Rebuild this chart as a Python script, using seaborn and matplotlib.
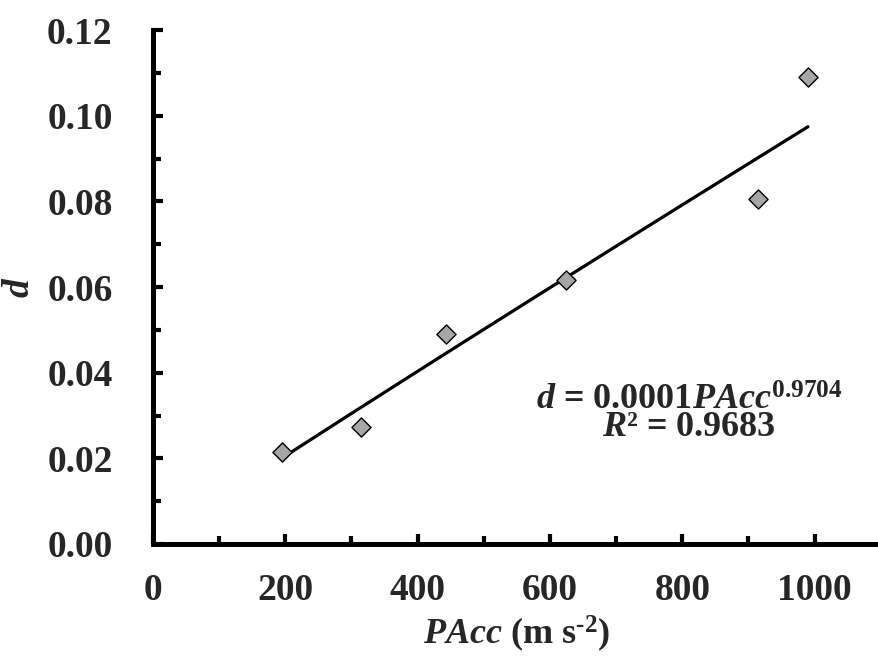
import numpy as np
import pandas as pd
import matplotlib
matplotlib.use('Agg')
import matplotlib.pyplot as plt
from matplotlib.ticker import MultipleLocator
import seaborn as sns

# values
pacc = [194.5, 314.0, 443.0, 625.0, 915.0, 990.0]
d_val = [0.0214, 0.0274, 0.0490, 0.0616, 0.0806, 0.1090]
eq_text = r'$d$ = 0.0001$PAcc^{\mathrm{0.9704}}$'
r2_text = r'$R$² = 0.9683'
x_ticks = [0, 200, 400, 600, 800, 1000]
y_ticks = [0.00, 0.02, 0.04, 0.06, 0.08, 0.10, 0.12]

sns.set_style('ticks')
plt.rcParams['font.family'] = ['Liberation Serif', 'DejaVu Serif']
plt.rcParams['font.weight'] = 'bold'
plt.rcParams['mathtext.fontset'] = 'custom'
plt.rcParams['mathtext.rm'] = 'Liberation Serif:bold'
plt.rcParams['mathtext.it'] = 'Liberation Serif:bold:italic'
plt.rcParams['mathtext.bf'] = 'Liberation Serif:bold'

df = pd.DataFrame({'PAcc': pacc, 'd': d_val})

# power fit in log space
b, loga = np.polyfit(np.log(df.PAcc), np.log(df.d), 1)
xf = np.linspace(df.PAcc.min(), df.PAcc.max(), 100)
fit = pd.DataFrame({'PAcc': xf, 'd': np.exp(loga) * xf ** b})

fig = plt.figure(figsize=(8.79, 6.57), dpi=100)
ax = fig.add_axes([0.174, 0.172, 0.828, 0.782])

sns.lineplot(data=fit, x='PAcc', y='d', color='black', linewidth=2.3, ax=ax)
sns.scatterplot(data=df, x='PAcc', y='d', marker='D', s=95, color='#a6a6a6',
                edgecolor='black', linewidth=1.0, zorder=3, ax=ax)

ax.set_xlim(0, 1100)
ax.set_ylim(0, 0.12)
ax.set_xticks(x_ticks)
ax.set_yticks(y_ticks)
ax.set_yticklabels(['%.2f' % v for v in y_ticks])
ax.xaxis.set_minor_locator(MultipleLocator(100))
ax.yaxis.set_minor_locator(MultipleLocator(0.01))

ax.spines['top'].set_visible(False)
ax.spines['right'].set_visible(False)
for s in ['left', 'bottom']:
    ax.spines[s].set_linewidth(3.6)
    ax.spines[s].set_color('black')

ax.tick_params(axis='both', which='major', direction='in', length=7.5, width=3.0,
               labelsize=27, color='black')
ax.tick_params(axis='both', which='minor', direction='in', length=5.5, width=3.0,
               color='black')
ax.tick_params(axis='x', which='major', pad=21)
ax.tick_params(axis='y', which='major', pad=29)

ax.set_xlabel(r'$PAcc$ (m s$^{\text{-}2}$)', fontsize=26, fontweight='bold', labelpad=4)
ax.set_ylabel(r'$d$', fontsize=27, labelpad=7)

ax.text(810, 0.0252, eq_text + '\n' + r2_text, fontsize=26, ha='center',
        va='baseline', multialignment='center', linespacing=0.72)

fig.savefig('out.png', dpi=100)
